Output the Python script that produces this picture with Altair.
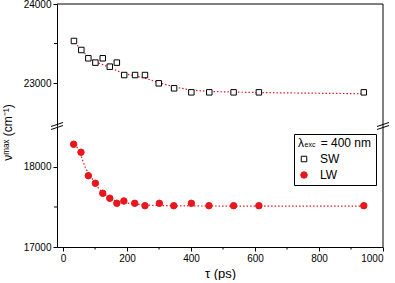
import altair as alt
import pandas as pd

# ---- data ----
sw_tau = [34, 57, 79, 101, 124, 146, 168, 191, 225, 256, 299, 347, 401, 457, 533, 612, 940]
sw_nu = [23532, 23418, 23313, 23258, 23313, 23207, 23258, 23101, 23101, 23101, 22996, 22933, 22882, 22882, 22882, 22882, 22882]

lw_tau = [33, 56, 79, 101, 124, 146, 168, 190, 224, 256, 301, 346, 401, 456, 533, 612, 940]
lw_nu = [18284, 18184, 17891, 17796, 17671, 17609, 17546, 17575, 17546, 17516, 17546, 17516, 17546, 17516, 17516, 17516, 17516]

sw_fit_tau = [30, 79, 144, 191, 258, 300, 347, 404, 456, 540, 700, 940]
sw_fit_nu = [23545, 23333, 23199, 23123, 23059, 23004, 22953, 22911, 22895, 22885, 22875, 22865]

lw_fit_tau = [30, 50, 71, 90, 110, 133, 160, 190, 220, 260, 350, 500, 940]
lw_fit_nu = [18320, 18200, 17983, 17860, 17740, 17650, 17585, 17555, 17540, 17525, 17515, 17512, 17512]

lw_err_low = [18245]
lw_err_high = [18325]

x_major = [0, 200, 400, 600, 800, 1000]
x_minor = [100, 300, 500, 700, 900]
up_major = [23000, 24000]
up_minor = [23500]
lo_major = [17000, 18000]
lo_minor = [17500]

RED = "#e8161d"
W = 326
H_UP = 122
H_LO = 121
FONT = "Liberation Sans"
NB = "\u00a0"

pts = pd.DataFrame({
    "tau": sw_tau + lw_tau,
    "nu": sw_nu + lw_nu,
    "series": ["SW"] * len(sw_tau) + ["LW"] * len(lw_tau),
})
fits = pd.DataFrame({
    "tau": sw_fit_tau + lw_fit_tau,
    "nu": sw_fit_nu + lw_fit_nu,
    "series": ["SW"] * len(sw_fit_tau) + ["LW"] * len(lw_fit_tau),
})
err = pd.DataFrame({"tau": [lw_tau[0]], "lo": lw_err_low, "hi": lw_err_high})

xscale = alt.Scale(domain=[-19, 1000], nice=False, zero=False)
up_scale = alt.Scale(domain=[22456, 24000], nice=False, zero=False)
lo_scale = alt.Scale(domain=[17000, 18512], nice=False, zero=False)

leg_title = "λ" + NB * 5 + "= 400 nm"
series_dom = ["SW", "LW"]
shape_enc = alt.Shape("series:N", scale=alt.Scale(domain=series_dom, range=["square", "circle"]), title=leg_title)
stroke_enc = alt.Stroke("series:N", scale=alt.Scale(domain=series_dom, range=["black", RED]), title=leg_title)
fill_enc = alt.Fill("series:N", scale=alt.Scale(domain=series_dom, range=["white", RED]), title=leg_title)
size_enc = alt.Size("series:N", scale=alt.Scale(domain=series_dom, range=[30, 42]), title=leg_title)

xaxis_lo = alt.Axis(values=x_major, format="d", tickSize=4, labelFontSize=10, labelPadding=2,
                    title="τ (ps)", titleFontSize=13, titleFontWeight="normal", titlePadding=4,
                    grid=False, labelFont=FONT, titleFont=FONT)


def panel(series, yscale, major, minor, height, yaxis, lower):
    d = pts[pts.series == series]
    f = fits[fits.series == series]
    xenc = alt.X("tau:Q", scale=xscale, axis=xaxis_lo if lower else None)
    fit = alt.Chart(f).mark_line(color=RED, strokeDash=[1.5, 2], strokeWidth=1.2, interpolate="monotone").encode(
        x=xenc, y=alt.Y("nu:Q", scale=yscale, axis=yaxis))
    points = alt.Chart(d).mark_point(strokeWidth=1, opacity=1).encode(
        x=xenc, y=alt.Y("nu:Q", scale=yscale, axis=yaxis),
        shape=shape_enc, stroke=stroke_enc, fill=fill_enc, size=size_enc)
    minor_y = alt.Chart(pd.DataFrame({"v": minor})).mark_rule(color="black").encode(
        y=alt.Y("v:Q", scale=yscale), x=alt.value(0), x2=alt.value(-3))
    right = alt.Chart(pd.DataFrame({"a": [0]})).mark_rule(color="black").encode(
        x=alt.value(W), y=alt.value(0), y2=alt.value(height))
    layers = [fit, points, minor_y, right]
    if not lower:
        top = alt.Chart(pd.DataFrame({"a": [0]})).mark_rule(color="black").encode(
            x=alt.value(0), x2=alt.value(W), y=alt.value(0))
        layers.append(top)
    else:
        minor_x = alt.Chart(pd.DataFrame({"v": x_minor})).mark_rule(color="black").encode(
            x=alt.X("v:Q", scale=xscale), y=alt.value(height), y2=alt.value(height + 2.5))
        eb = alt.Chart(err).mark_rule(color=RED, strokeWidth=1).encode(
            x=alt.X("tau:Q", scale=xscale), y=alt.Y("lo:Q", scale=yscale), y2="hi:Q")
        brk = []
        for xc in [0, W]:
            for off in [-1.5, 1.5]:
                brk.append(alt.Chart(pd.DataFrame({"a": [0]})).mark_rule(color="black", strokeWidth=1).encode(
                    x=alt.value(xc - 6), x2=alt.value(xc + 6), y=alt.value(off + 2), y2=alt.value(off - 2)))
        sub = alt.Chart(pd.DataFrame({"a": [0]})).mark_text(
            text="exc", fontSize=7, font=FONT, align="left", baseline="middle").encode(
            x=alt.value(247.5), y=alt.value(19))
        layers = [eb] + layers + [minor_x] + brk + [sub]
    return alt.layer(*layers).properties(width=W, height=height)


yaxis_up = alt.Axis(values=up_major, format="d", tickSize=4, labelFontSize=10, labelPadding=2, grid=False,
                    title=None, labelFont=FONT)
yaxis_lo = alt.Axis(values=lo_major, format="d", tickSize=4, labelFontSize=10, labelPadding=2, grid=False,
                    title="νᵐᵃˣ (cm⁻¹)", titleFontSize=12, titleFontWeight="normal", titleFont=FONT,
                    titleAngle=270, titleX=-43, titleY=6, titleAlign="center", titleBaseline="bottom")

upper = panel("SW", up_scale, up_major, up_minor, H_UP, yaxis_up, False)
lower = panel("LW", lo_scale, lo_major, lo_minor, H_LO, yaxis_lo, True)

chart = alt.vconcat(upper, lower, spacing=0, bounds="flush").properties(
    padding={"left": 0, "top": -1, "right": 0, "bottom": 0}
).configure_view(stroke=None).configure_axis(
    domainColor="black", tickColor="black", labelColor="black", titleColor="black"
).configure_legend(
    orient="none", legendX=237, legendY=130, strokeColor="black",
    padding=4, cornerRadius=0, titleFontSize=12, labelFontSize=12, titleFontWeight="normal",
    titleFont=FONT, labelFont=FONT, titleColor="black", labelColor="black",
    symbolStrokeWidth=1, rowPadding=4, labelOffset=10, titlePadding=3
)

chart.save("out.html", embed_options={"renderer": "svg", "actions": False})
